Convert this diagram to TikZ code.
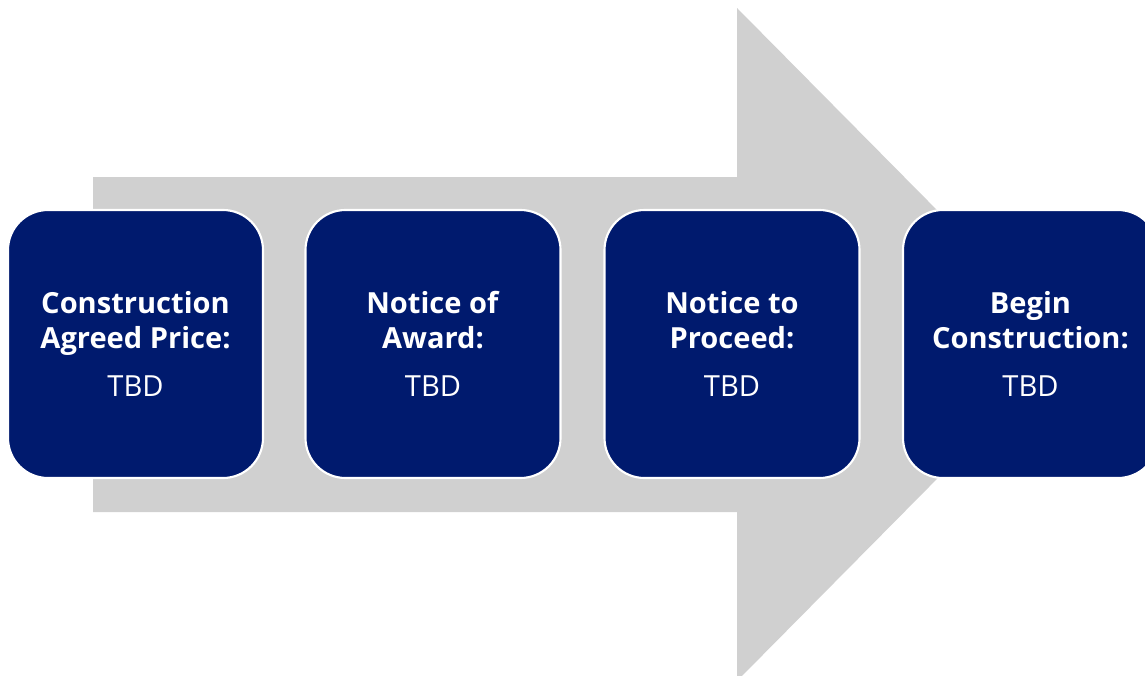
\documentclass[tikz,border=0pt]{standalone}
\usepackage{fontspec}
\setmainfont{Open Sans}
\definecolor{navy}{RGB}{0,26,110}
\definecolor{arrowgrey}{RGB}{208,208,208}
\tikzset{
  stepbox/.style={rectangle, rounded corners=30pt, fill=navy, draw=white, line width=1.6pt,
    minimum width=191.25pt, minimum height=201pt, inner sep=0pt, text=white, align=center,
    font=\fontsize{21.8}{26.25}\selectfont},
}
\begin{document}
\begin{tikzpicture}[x=0.75pt, y=-0.75pt]
\useasboundingbox (0,0) rectangle (1145,675);
\clip (0,0) rectangle (1145,675);
\fill[arrowgrey] (93,177) -- (737,177) -- (737,8) -- (1070,344.5) -- (737,681) -- (737,512) -- (93,512) -- cycle;
\node[stepbox] (b1) at (135.5,344) {\textbf{Construction}\\\textbf{Agreed Price:}\\[9.75pt]TBD};
\node[stepbox] (b2) at (433,344) {\textbf{Notice of}\\\textbf{Award:}\\[9.75pt]TBD};
\node[stepbox] (b3) at (732,344) {\textbf{Notice to}\\\textbf{Proceed:}\\[9.75pt]TBD};
\node[stepbox] (b4) at (1030.5,344) {\textbf{Begin}\\\textbf{Construction:}\\[9.75pt]TBD};
\end{tikzpicture}
\end{document}
